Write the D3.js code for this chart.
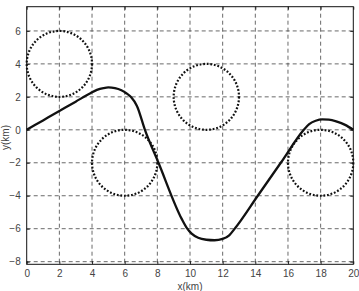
<!DOCTYPE html>
<html>
<head>
<meta charset="UTF-8">
<title>path</title>
<script src="https://cdn.jsdelivr.net/npm/d3@7"></script>
<style>
	body { margin: 0; background: #fff; }
	text { font-family: "Liberation Sans", Arial, sans-serif; }
</style>
</head>
<body>
<svg id="chart" width="359" height="291"></svg>
<script>
// track of the vessel (km)
var trackX = [0, 1, 2, 3, 3.9, 4.3, 4.7, 5.0, 5.4, 5.8, 6.1, 6.4, 6.75, 7.24, 8.07, 9.5, 9.8, 10.1, 10.5, 11, 11.5, 12, 12.4, 12.77, 14.15, 15.56, 16.97, 17.3, 17.7, 18.1, 18.5, 19, 19.5, 20];
var trackY = [0, 0.57, 1.14, 1.71, 2.22, 2.42, 2.53, 2.57, 2.53, 2.4, 2.22, 1.97, 1.45, 0, -2, -5.42, -5.95, -6.3, -6.55, -6.67, -6.7, -6.62, -6.4, -5.96, -4, -2, 0, 0.35, 0.55, 0.63, 0.62, 0.5, 0.3, 0];

// obstacles
var obsX = [2, 6, 11, 18];
var obsY = [4, -2, 2, -2];
var obsR = [2, 2, 2, 2];

var xTicks = [0, 2, 4, 6, 8, 10, 12, 14, 16, 18, 20];
var yTicks = [-8, -6, -4, -2, 0, 2, 4, 6];

var svg = d3.select("#chart");
var padL = 26.7, padR = 353.3, padT = 6.7, padB = 264.3;

var x = d3.scaleLinear().domain([0, 20]).range([padL, padR]);
var y = d3.scaleLinear().domain([-8.16, 7.47]).range([padB, padT]);

// grid
var grid = svg.append("g")
	.attr("stroke", "#444")
	.attr("stroke-width", 0.8)
	.attr("stroke-dasharray", "4,3");
grid.selectAll(".gx").data(xTicks.slice(1, -1)).enter().append("line")
	.attr("x1", function (d) { return x(d); }).attr("x2", function (d) { return x(d); })
	.attr("y1", padT).attr("y2", padB);
grid.selectAll(".gy").data(yTicks).enter().append("line")
	.attr("y1", function (d) { return y(d); }).attr("y2", function (d) { return y(d); })
	.attr("x1", padL).attr("x2", padR);

// axes, ticks inward
svg.append("g").attr("transform", "translate(0," + padB + ")")
	.call(d3.axisBottom(x).tickValues(xTicks).tickSizeInner(-3).tickSizeOuter(0).tickPadding(6));
svg.append("g").attr("transform", "translate(0," + padT + ")")
	.call(d3.axisTop(x).tickValues(xTicks).tickSizeInner(-3).tickSizeOuter(0).tickFormat(""));
svg.append("g").attr("transform", "translate(" + padL + ",0)")
	.call(d3.axisLeft(y).tickValues(yTicks).tickSizeInner(-3).tickSizeOuter(0).tickPadding(6));
svg.append("g").attr("transform", "translate(" + padR + ",0)")
	.call(d3.axisRight(y).tickValues(yTicks).tickSizeInner(-3).tickSizeOuter(0).tickFormat(""));

svg.selectAll(".domain").remove();
svg.selectAll(".tick line").attr("stroke", "#000").attr("stroke-width", 0.8);
svg.selectAll(".tick text").attr("font-size", 10).attr("fill", "#444")
	.attr("font-family", "'Liberation Sans', Arial, sans-serif");

svg.append("rect")
	.attr("x", padL).attr("y", padT)
	.attr("width", padR - padL).attr("height", padB - padT)
	.attr("fill", "none").attr("stroke", "#111").attr("stroke-width", 1);

// obstacles as dotted circles
svg.selectAll(".obs").data(obsX).enter().append("ellipse")
	.attr("cx", function (d) { return x(d); })
	.attr("cy", function (d, i) { return y(obsY[i]); })
	.attr("rx", function (d, i) { return x(obsR[i]) - x(0); })
	.attr("ry", function (d, i) { return y(0) - y(obsR[i]); })
	.attr("fill", "none")
	.attr("stroke", "#111")
	.attr("stroke-width", 2.2)
	.attr("stroke-dasharray", "1.8,1.8");

// track
var line = d3.line()
	.x(function (d) { return x(d); })
	.y(function (d, i) { return y(trackY[i]); })
	.curve(d3.curveMonotoneX);
svg.append("path")
	.attr("d", line(trackX))
	.attr("fill", "none")
	.attr("stroke", "#111")
	.attr("stroke-width", 2.3);

// labels
svg.append("text").attr("x", (padL + padR) / 2).attr("y", 290)
	.attr("text-anchor", "middle").attr("font-size", 10).attr("fill", "#444")
	.text("x(km)");
svg.append("text")
	.attr("transform", "translate(9," + ((padT + padB) / 2 + 2) + ") rotate(-90)")
	.attr("text-anchor", "middle").attr("font-size", 10).attr("fill", "#444")
	.text("y(km)");
</script>
</body>
</html>
